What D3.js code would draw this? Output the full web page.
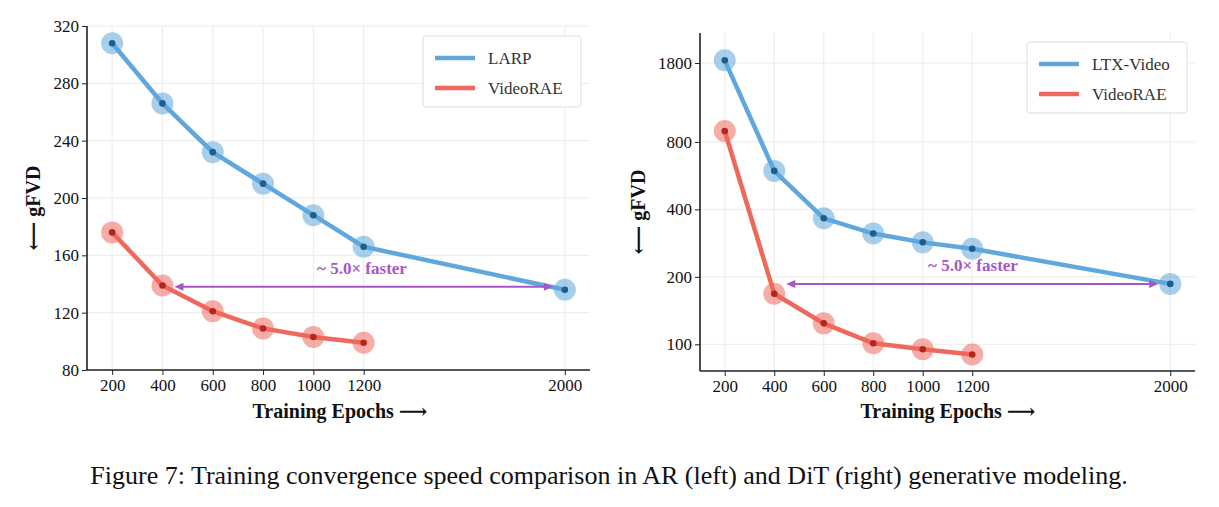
<!DOCTYPE html><html><head><meta charset="utf-8">
<script src="https://cdn.jsdelivr.net/npm/d3@7"></script>
<style>body{margin:0;background:#fff}text{font-family:"Liberation Serif","DejaVu Serif",serif}</style>
</head><body><svg id="c" width="1219" height="507"></svg>
<script>
const epochs=[200,400,600,800,1000,1200,2000];
const epochsRAE=[200,400,600,800,1000,1200];
const larp=[308,266,232,210,188,166,136];
const raeAR=[176,139,121,109,103,99];
const ltx=[1850,594,365,312,285,267,186];
const raeDiT=[895,168,124,101,95,90];
const leftYTicks=[80,120,160,200,240,280,320];
const rightYTicks=[100,200,400,800,1800];
const xTicks=[200,400,600,800,1000,1200,2000];
const BLUE="#5fa7dc",RED="#ee695c",PURPLE="#a656c6";
const svg=d3.select("#c");

function panel(o){
  const g=svg.append("g");
  const x=d3.scaleLinear().domain([100,2100]).range([o.x0,o.x1]);
  const y=(o.log?d3.scaleLog():d3.scaleLinear()).domain(o.yd).range([o.y1,o.y0]);
  g.selectAll(".gx").data(xTicks).join("line").attr("x1",d=>x(d)).attr("x2",d=>x(d)).attr("y1",o.y0).attr("y2",o.y1).attr("stroke","#ebebeb");
  g.selectAll(".gy").data(o.yt).join("line").attr("x1",o.x0).attr("x2",o.x1).attr("y1",d=>y(d)).attr("y2",d=>y(d)).attr("stroke","#ebebeb");
  const ax=g.append("g").attr("transform",`translate(0,${o.y1})`).call(d3.axisBottom(x).tickValues(xTicks).tickFormat(d3.format("d")).tickSize(5).tickPadding(4));
  const ay=g.append("g").attr("transform",`translate(${o.x0},0)`).call(d3.axisLeft(y).tickValues(o.yt).tickFormat(d3.format("d")).tickSize(5).tickPadding(3));
  [ax,ay].forEach(a=>{a.selectAll("text").attr("font-size",17).attr("fill","#111").style("font-family","Liberation Serif");a.select(".domain").attr("stroke","#222").attr("stroke-width",1.6);a.selectAll(".tick line").attr("stroke","#222")});
  ax.select(".domain").attr("d",`M${o.x0},0H${o.x1}`);
  ay.select(".domain").attr("d",`M0,${o.y0}V${o.y1}`);
  const line=d3.line().x(d=>x(d[0])).y(d=>y(d[1]));
  [[epochs,o.s1,BLUE,"#1d5e8c"],[epochsRAE,o.s2,RED,"#b3261e"]].forEach(([xs,vs,c,dc])=>{
    const pts=xs.map((e,i)=>[e,vs[i]]);
    g.append("path").attr("d",line(pts)).attr("fill","none").attr("stroke",c).attr("stroke-width",4.5);
    g.selectAll(null).data(pts).join("circle").attr("cx",d=>x(d[0])).attr("cy",d=>y(d[1])).attr("r",11).attr("fill",c).attr("opacity",0.55);
    g.selectAll(null).data(pts).join("circle").attr("cx",d=>x(d[0])).attr("cy",d=>y(d[1])).attr("r",3.3).attr("fill",dc);
  });
  const ay0=y(o.arrowV);
  const ax1=x(400)+o.ag,ax2=x(2000)-o.ag2;
  g.append("line").attr("x1",ax1+4).attr("x2",ax2-4).attr("y1",ay0).attr("y2",ay0).attr("stroke",PURPLE).attr("stroke-width",2);
  [[ax1,1],[ax2,-1]].forEach(([px,dir])=>g.append("path").attr("d",`M${px},${ay0}l${dir*9},-4l0,8z`).attr("fill",PURPLE));
  g.append("text").attr("x",o.tx).attr("y",ay0-13).attr("text-anchor","middle").attr("font-size",17).attr("font-weight","bold").attr("fill",PURPLE).text("~ 5.0\u00d7 faster");
  g.append("rect").attr("x",o.lx).attr("y",o.ly).attr("width",o.lw).attr("height",71).attr("rx",3).attr("fill","#fff").attr("stroke","#ddd");
  [[o.n1,BLUE],["VideoRAE",RED]].forEach(([n,c],i)=>{
    const yy=o.ly+22+i*30;
    g.append("line").attr("x1",o.lx+12).attr("x2",o.lx+52).attr("y1",yy).attr("y2",yy).attr("stroke",c).attr("stroke-width",4.5);
    g.append("text").attr("x",o.lx+65).attr("y",yy+6).attr("font-size",17).attr("fill","#333").text(n);
  });
  g.append("text").attr("x",o.xlx).attr("y",418).attr("text-anchor","middle").attr("font-size",20).attr("font-weight","bold").attr("fill","#111").text("Training Epochs \u27F6");
  g.append("text").attr("transform",`translate(${o.ylx},${(o.y0+o.y1)/2+10}) rotate(-90)`).attr("text-anchor","middle").attr("font-size",20).attr("font-weight","bold").attr("fill","#111").text("\u27F5 gFVD");
}
panel({x0:87,x1:590,y0:26,y1:370,yd:[80,320],yt:leftYTicks,log:false,s1:larp,s2:raeAR,arrowV:138,ag:12,ag2:12,tx:362,lx:423,ly:36,lw:158,n1:"LARP",xlx:340,ylx:40});
panel({x0:700,x1:1195,y0:33,y1:371,yd:[76,2450],yt:rightYTicks,log:true,s1:ltx,s2:raeDiT,arrowV:186,ag:12,ag2:12,tx:973,lx:1027,ly:42,lw:160,n1:"LTX-Video",xlx:948,ylx:645});
svg.append("text").attr("x",609).attr("y",484).attr("text-anchor","middle").attr("font-size",26).attr("fill","#111").text("Figure 7: Training convergence speed comparison in AR (left) and DiT (right) generative modeling.");
</script></body></html>
